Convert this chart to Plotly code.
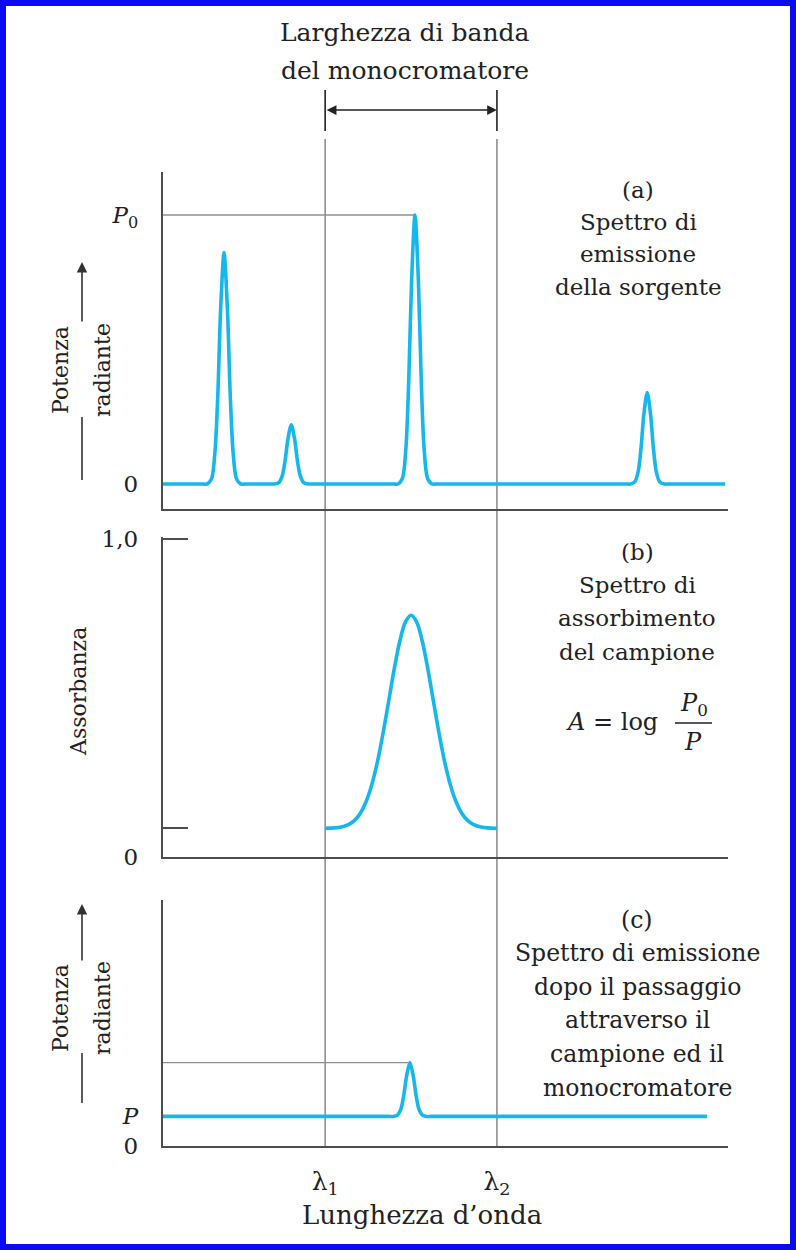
import plotly.graph_objects as go

W, H = 796, 1250


def px(x):
    return x / W


def py(y):
    return 1 - y / H


# ---------------- data ----------------
# (a) emission spectrum of the source: wavelength (a.u.) vs radiant power (P0 = 1)
wl_a = [0, 7.0, 7.8, 8.6, 9.2, 9.7, 10.2, 10.8, 11.4, 11.9, 12.4, 13.0, 13.8, 14.6,
        18.9, 19.7, 20.5, 21.1, 21.6, 22.1, 22.7, 23.3, 23.8, 24.3, 24.9, 25.7, 26.5,
        40.8, 41.6, 42.4, 43.0, 43.5, 44.0, 44.6, 45.2, 45.7, 46.2, 46.8, 47.6, 48.4,
        81.9, 82.7, 83.5, 84.1, 84.6, 85.1, 85.7, 86.3, 86.8, 87.3, 87.9, 88.7, 89.5,
        99.5]
pow_a = [0, 0, 0, 0.02, 0.12, 0.33, 0.65, 0.86, 0.65, 0.33, 0.12, 0.02, 0, 0,
         0, 0, 0.005, 0.03, 0.085, 0.166, 0.22, 0.166, 0.085, 0.03, 0.005, 0, 0,
         0, 0, 0.023, 0.135, 0.389, 0.755, 1.0, 0.755, 0.389, 0.135, 0.023, 0, 0,
         0, 0, 0.008, 0.046, 0.132, 0.257, 0.34, 0.257, 0.132, 0.046, 0.008, 0, 0,
         0]

# (b) absorption spectrum of the sample (between lambda1 and lambda2)
wl_b = [28.7, 30.4, 31.9, 32.9, 33.9, 34.9, 35.9, 36.9, 37.9, 38.9, 39.9, 40.9,
        41.9, 42.9, 43.9, 44.9, 45.9, 46.9, 47.9, 48.9, 49.9, 50.9, 51.9, 52.9,
        53.9, 54.9, 55.9, 57.4, 59.1]
abs_b = [0.09, 0.0917, 0.0959, 0.1025, 0.115, 0.1368, 0.172, 0.224, 0.295, 0.385,
         0.486, 0.5885, 0.6776, 0.7386, 0.76, 0.7386, 0.6776, 0.5885, 0.486, 0.385,
         0.295, 0.224, 0.172, 0.1368, 0.115, 0.1025, 0.0959, 0.0917, 0.09]

# (c) emission after sample + monochromator
wl_c = [0, 39.9, 40.7, 41.5, 42.1, 42.6, 43.1, 43.7, 44.3, 44.8, 45.3, 45.9, 46.7,
        47.5, 96.3]
pow_c = [0.11, 0.11, 0.11, 0.115, 0.137, 0.187, 0.259, 0.31, 0.259, 0.187, 0.137,
         0.115, 0.11, 0.11, 0.11]

lambda_pos = [28.7, 59.1]
lambda_labels = ["λ<sub>1</sub>", "λ<sub>2</sub>"]
P0_level, P0_x = 1.0, 44.6
P_level, P_peak, P_peak_x = 0.11, 0.31, 43.7
a_ticks, a_ticktext = [0, 1.0], ["0", "<i>P</i><sub>0</sub>"]
b_ticks, b_ticktext = [0, 0.09, 1.0], ["0", "", "1,0"]
c_ticks, c_ticktext = [0, 0.11], ["0", "<i>P</i>"]

# ---------------- styling ----------------
FONT = "DejaVu Serif"
TXT = "#222222"
CYAN = "#16b7ec"
AXC = "#4d4d4d"
GRAY = "#8f8f8f"

fig = go.Figure()
fig.add_trace(go.Scatter(x=wl_a, y=pow_a, mode="lines",
                         line=dict(color=CYAN, width=3.6, shape="spline", smoothing=0.8),
                         xaxis="x", yaxis="y", showlegend=False, hoverinfo="skip"))
fig.add_trace(go.Scatter(x=wl_b, y=abs_b, mode="lines",
                         line=dict(color=CYAN, width=3.6, shape="spline", smoothing=1.0),
                         xaxis="x2", yaxis="y2", showlegend=False, hoverinfo="skip"))
fig.add_trace(go.Scatter(x=wl_c, y=pow_c, mode="lines",
                         line=dict(color=CYAN, width=3.6, shape="spline", smoothing=0.8),
                         xaxis="x3", yaxis="y3", showlegend=False, hoverinfo="skip"))

xdom = [px(163), px(728)]
tickfont = dict(family=FONT, size=23, color=TXT)
base_x = dict(domain=xdom, range=[0, 100], showline=True, linecolor=AXC,
              linewidth=2.2, showgrid=False, zeroline=False, ticks="",
              fixedrange=True, automargin=False)
base_y = dict(showline=True, linecolor=AXC, linewidth=2.2, showgrid=False,
              zeroline=False, fixedrange=True, tickfont=tickfont, automargin=False)

b_top = 1.0 + 2 / 318  # tiny headroom so the 1,0 tick is drawn

fig.update_layout(
    width=W, height=H, autosize=False,
    margin=dict(l=0, r=0, t=0, b=0, pad=0, autoexpand=False),
    paper_bgcolor="white", plot_bgcolor="rgba(0,0,0,0)",
    xaxis=dict(base_x, anchor="y", showticklabels=False),
    yaxis=dict(base_y, anchor="x", domain=[py(509), py(172)],
               range=[-25 / 269, 312 / 269], tickmode="array",
               tickvals=a_ticks, ticktext=a_ticktext, ticks="",
               ticklabelstandoff=18),
    xaxis2=dict(base_x, anchor="y2", showticklabels=False),
    yaxis2=dict(base_y, anchor="x2", domain=[py(857), py(537)], range=[0, b_top],
                tickmode="array", tickvals=b_ticks, ticktext=b_ticktext,
                ticks="inside", ticklen=25, tickwidth=2.2, tickcolor=AXC,
                ticklabelstandoff=18),
    xaxis3=dict(base_x, anchor="y3", showticklabels=True, tickmode="array",
                tickvals=lambda_pos, ticktext=lambda_labels,
                tickfont=dict(family=FONT, size=25, color=TXT),
                ticklabelstandoff=12),
    yaxis3=dict(base_y, anchor="x3", domain=[py(1146), py(900)],
                range=[0, 246 / 269], tickmode="array", tickvals=c_ticks,
                ticktext=c_ticktext, ticks="", ticklabelstandoff=18),
)

shapes = []
# monochromator band lines (lambda1, lambda2) across all panels
for lx in lambda_pos:
    shapes.append(dict(type="line", xref="x", yref="paper", x0=lx, x1=lx,
                       y0=py(1146), y1=py(139), line=dict(color=GRAY, width=1.6),
                       layer="below"))
    shapes.append(dict(type="line", xref="x", yref="paper", x0=lx, x1=lx,
                       y0=py(131), y1=py(90), line=dict(color="#222", width=1.6)))
# P0 reference line in (a)
shapes.append(dict(type="line", xref="x", yref="y", x0=0, x1=P0_x,
                   y0=P0_level, y1=P0_level, line=dict(color=GRAY, width=1.3),
                   layer="below"))
# peak reference line in (c)
shapes.append(dict(type="line", xref="x3", yref="y3", x0=0, x1=P_peak_x,
                   y0=P_peak, y1=P_peak, line=dict(color=GRAY, width=1.3),
                   layer="below"))
# fraction bar in formula
shapes.append(dict(type="line", xref="paper", yref="paper", x0=px(675), x1=px(712),
                   y0=py(723), y1=py(723), line=dict(color=TXT, width=1.3)))
# lower parts of the y-axis label arrows
for y0, y1 in [(417, 480), (1053, 1103)]:
    shapes.append(dict(type="line", xref="paper", yref="paper", x0=px(82), x1=px(82),
                       y0=py(y1), y1=py(y0), line=dict(color="#333", width=1.6)))
# blue frame
shapes.append(dict(type="rect", xref="paper", yref="paper", x0=px(3), x1=px(793),
                   y0=py(1247), y1=py(3), line=dict(color="#0b0bf2", width=6)))
fig.update_layout(shapes=shapes)

ann = []


def text(t, x, y, size=23, angle=0, xanchor="center"):
    ann.append(dict(text=t, x=px(x), y=py(y), xref="paper", yref="paper",
                    showarrow=False, xanchor=xanchor, yanchor="middle",
                    textangle=angle, font=dict(family=FONT, size=size, color=TXT)))


text("Larghezza di banda", 405, 33, 25)
text("del monocromatore", 405, 70, 25)

for t, y in [("(a)", 190), ("Spettro di", 222), ("emissione", 254), ("della sorgente", 287)]:
    text(t, 638, y)
for t, y in [("(b)", 552), ("Spettro di", 585), ("assorbimento", 618), ("del campione", 652)]:
    text(t, 637, y)
for t, y in [("(c)", 920), ("Spettro di emissione", 953), ("dopo il passaggio", 987),
             ("attraverso il", 1020), ("campione ed il", 1054), ("monocromatore", 1088)]:
    text(t, 637, y, 23.5)

# formula A = log P0/P
text("<i>A</i> = log", 660, 722, 24, xanchor="right")
text("<i>P</i><sub>0</sub>", 694, 705, 24)
text("<i>P</i>", 693, 742, 24)

# y-axis labels
text("Potenza", 60, 370, 22, angle=-90)
text("radiante", 102, 370, 22, angle=-90)
text("Assorbanza", 78, 692, 22, angle=-90)
text("Potenza", 60, 1008, 22, angle=-90)
text("radiante", 102, 1008, 22, angle=-90)

# x-axis title
text("Lunghezza d’onda", 422, 1215, 26)

# arrows
ann.append(dict(x=lambda_pos[1], y=py(110), xref="x", yref="paper",
                ax=lambda_pos[0], ay=0, axref="x", ayref="pixel", text="",
                showarrow=True, arrowside="end+start", arrowhead=2, arrowsize=1.3,
                arrowwidth=1.5, arrowcolor="#222", standoff=0, startstandoff=0))
for tip, tail in [(262, 323), (904, 962)]:
    ann.append(dict(x=px(82), y=py(tip), xref="paper", yref="paper",
                    ax=0, ay=tail - tip, text="", showarrow=True, arrowhead=2,
                    arrowsize=1.3, arrowwidth=1.6, arrowcolor="#333"))

fig.update_layout(annotations=ann)

post = ("var s=document.createElement('style');"
        "s.textContent='html,body{margin:0!important;padding:0!important;"
        "width:796px;height:1250px;overflow:hidden;}"
        ".plotly-graph-div{position:fixed!important;left:0;top:0;}';"
        "document.head.appendChild(s);window.scrollTo(0,0);")
fig.write_html("out.html", post_script=post,
               config={"displayModeBar": False, "staticPlot": True})
